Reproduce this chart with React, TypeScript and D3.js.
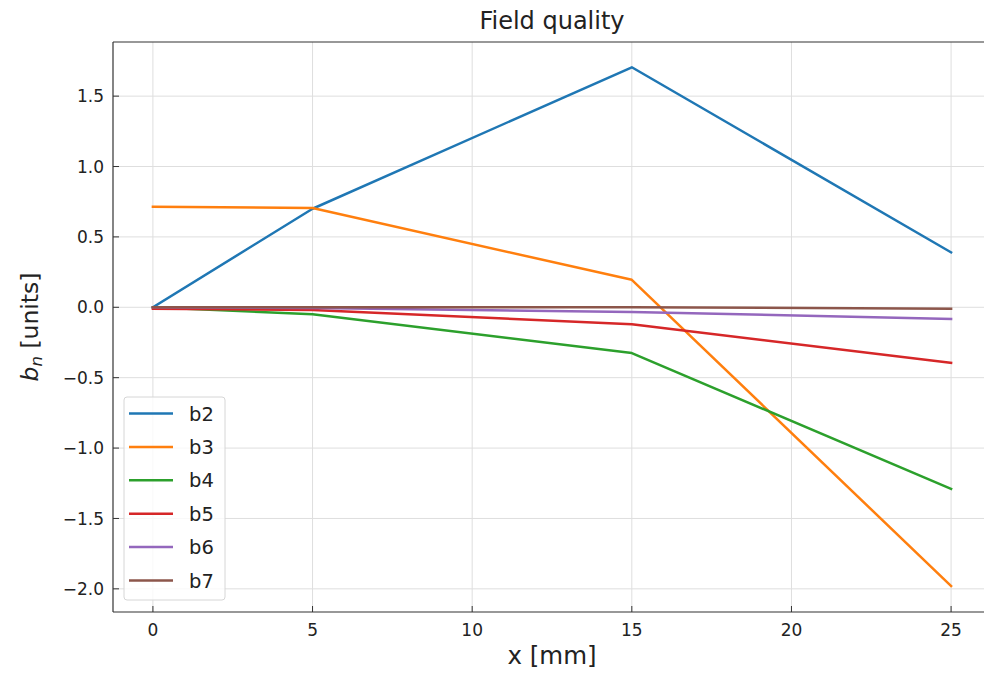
import React from "react";
import * as d3 from "d3";

const xValues = [0, 5, 15, 25];
const seriesNames = ["b2", "b3", "b4", "b5", "b6", "b7"];
const b2 = [0, 0.70, 1.705, 0.39];
const b3 = [0.715, 0.705, 0.195, -1.98];
const b4 = [0, -0.05, -0.325, -1.29];
const b5 = [-0.01, -0.02, -0.12, -0.395];
const b6 = [0, -0.005, -0.033, -0.083];
const b7 = [0, 0, 0, -0.01];
const seriesValues = [b2, b3, b4, b5, b6, b7];
const colors = ["#1f77b4", "#ff7f0e", "#2ca02c", "#d62728", "#9467bd", "#8c564b"];
const xTicks = [0, 5, 10, 15, 20, 25];
const yTicks = [-2.0, -1.5, -1.0, -0.5, 0.0, 0.5, 1.0, 1.5];

const W = 984;
const H = 674;
const left = 113;
const top = 42;
const bottom = 612;
const right = 991;

export default function App() {
  const x = d3.scaleLinear().domain([-1.25, 26.25]).range([left, right]);
  const y = d3.scaleLinear().domain([-2.1645, 1.8845]).range([bottom, top]);
  const line = d3
    .line<number>()
    .x((_, i) => x(xValues[i]))
    .y((d) => y(d));
  const fmt = (v: number) => (v < 0 ? "\u2212" : "") + Math.abs(v).toFixed(1);
  const font = "DejaVu Sans, sans-serif";
  const legX = 124;
  const legY = 397;
  const rowH = 33.4;
  const cx = (left + right) / 2;
  return (
    <svg
      width={W}
      height={H}
      style={{ position: "absolute", left: 0, top: 0, display: "block", background: "#fff" }}
      fontFamily={font}
    >
      <defs>
        <clipPath id="plotclip">
          <rect x={left} y={top} width={right - left} height={bottom - top} />
        </clipPath>
      </defs>
      {/* grid */}
      <g stroke="#dedede" strokeWidth={1}>
        {xTicks.map((t) => (
          <line key={"gx" + t} x1={x(t)} x2={x(t)} y1={top} y2={bottom} />
        ))}
        {yTicks.map((t) => (
          <line key={"gy" + t} x1={left} x2={right} y1={y(t)} y2={y(t)} />
        ))}
      </g>
      {/* series */}
      <g clipPath="url(#plotclip)" fill="none" strokeWidth={2.5} strokeLinejoin="round" strokeLinecap="square">
        {seriesValues.map((s, i) => (
          <path key={seriesNames[i]} d={line(s) || ""} stroke={colors[i]} />
        ))}
      </g>
      {/* spines */}
      <g stroke="#333" strokeWidth={1.2} fill="none">
        <line x1={left} x2={left} y1={top} y2={bottom} />
        <line x1={left} x2={right} y1={bottom} y2={bottom} />
        <line x1={left} x2={right} y1={top} y2={top} />
      </g>
      {/* ticks */}
      <g stroke="#333" strokeWidth={1}>
        {xTicks.map((t) => (
          <line key={"tx" + t} x1={x(t)} x2={x(t)} y1={bottom} y2={bottom - 6} />
        ))}
        {yTicks.map((t) => (
          <line key={"ty" + t} x1={left} x2={left + 6} y1={y(t)} y2={y(t)} />
        ))}
      </g>
      <g fontSize={17} fill="#222">
        {xTicks.map((t) => (
          <text key={"lx" + t} x={x(t)} y={636} textAnchor="middle">
            {t}
          </text>
        ))}
        {yTicks.map((t) => (
          <text key={"ly" + t} x={left - 9} y={y(t)} dy="0.36em" textAnchor="end">
            {fmt(t)}
          </text>
        ))}
      </g>
      <text x={cx} y={29} textAnchor="middle" fontSize={24} fill="#222">
        Field quality
      </text>
      <text x={cx} y={664} textAnchor="middle" fontSize={24.5} fill="#222">
        x [mm]
      </text>
      <text transform={`translate(38, ${(top + bottom) / 2}) rotate(-90)`} textAnchor="middle" fontSize={23.5} fill="#222">
        <tspan fontStyle="italic">b</tspan>
        <tspan fontStyle="italic" fontSize={16.5} dy={4}>n</tspan>
        <tspan dy={-4}> [units]</tspan>
      </text>
      {/* legend */}
      <rect x={legX} y={legY} width={101} height={203} rx={3} fill="#fff" fillOpacity={0.8} stroke="#d6d6d6" strokeWidth={1} />
      {seriesNames.map((n, i) => (
        <g key={"leg" + n}>
          <line
            x1={legX + 5}
            x2={legX + 49}
            y1={legY + 16.5 + i * rowH}
            y2={legY + 16.5 + i * rowH}
            stroke={colors[i]}
            strokeWidth={2.5}
          />
          <text x={legX + 65} y={legY + 16.5 + i * rowH} dy="0.36em" fontSize={19.5} fill="#222">
            {n}
          </text>
        </g>
      ))}
    </svg>
  );
}
